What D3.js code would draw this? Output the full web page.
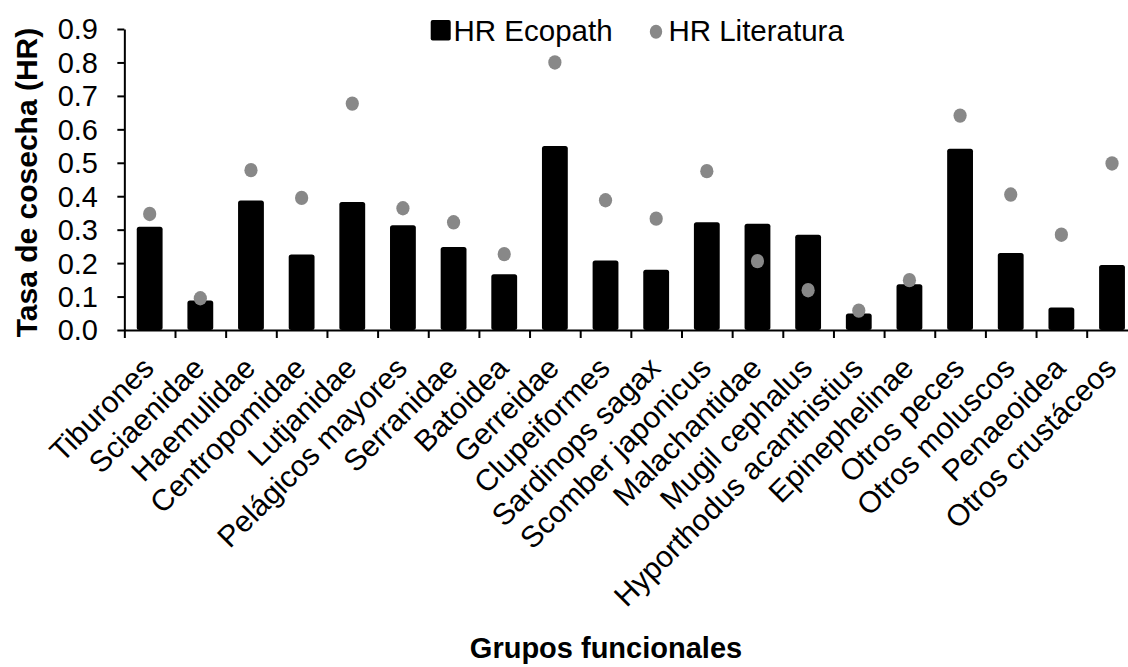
<!DOCTYPE html>
<html lang="es">
  <head>
    <meta charset="utf-8">
    <title>Tasa de cosecha (HR)</title>
    <script src="https://d3js.org/d3.v7.min.js"></script>
    <style>
      body { margin: 0; background: #fff; }
      svg { display: block; }
      text { font-family: "Liberation Sans", Arial, sans-serif; fill: #000; }
    </style>
  </head>
  <body>
    <div id="chart"></div>
    <script type="text/javascript">
      // data
      const categories = ["Tiburones", "Sciaenidae", "Haemulidae", "Centropomidae", "Lutjanidae",
        "Pelágicos mayores", "Serranidae", "Batoidea", "Gerreidae", "Clupeiformes",
        "Sardinops sagax", "Scomber japonicus", "Malachantidae", "Mugil cephalus",
        "Hyporthodus acanthistius", "Epinephelinae", "Otros peces", "Otros moluscos",
        "Penaeoidea", "Otros crustáceos"];
      const hrEcopath = [0.309, 0.088, 0.387, 0.226, 0.383, 0.313, 0.248, 0.167, 0.550, 0.208,
        0.180, 0.322, 0.318, 0.285, 0.049, 0.137, 0.542, 0.230, 0.067, 0.194];
      const hrLiteratura = [0.347, 0.095, 0.478, 0.395, 0.677, 0.364, 0.322, 0.227, 0.800, 0.388,
        0.333, 0.475, 0.206, 0.119, 0.058, 0.149, 0.641, 0.405, 0.285, 0.498];
      const yTicks = [0, 0.1, 0.2, 0.3, 0.4, 0.5, 0.6, 0.7, 0.8, 0.9];
      const seriesNames = ["HR Ecopath", "HR Literatura"];

      const width = 1128, height = 667;

      var svg = d3.select("#chart")
        .append("svg")
        .attr("width", width)
        .attr("height", height);

      // scales
      let x = d3.scaleBand()
        .domain(categories)
        .range([124.35, 1137.35])
        .padding(0);
      let xEdge = d3.scaleLinear()
        .domain([0, categories.length])
        .range(x.range());
      let y = d3.scaleLinear()
        .domain([0, 0.9])
        .range([330, 29]);

      let barW = x.bandwidth() * 0.51;

      // bars
      svg.selectAll(".bar")
        .data(hrEcopath)
        .enter()
        .append("rect")
          .attr("class", "bar")
          .attr("x", (d, i) => x(categories[i]) + x.bandwidth() / 2 - barW / 2)
          .attr("y", (d) => y(d))
          .attr("width", barW)
          .attr("height", (d) => y(0) - y(d))
          .attr("rx", 2.5)
          .attr("fill", "#000");

      // axes
      let yAxis = d3.axisLeft(y)
        .tickValues(yTicks)
        .tickSize(7)
        .tickSizeOuter(0)
        .tickFormat("");
      let gy = svg.append("g")
        .attr("transform", "translate(" + x.range()[0] + ",0)")
        .call(yAxis);

      let xAxis = d3.axisBottom(xEdge)
        .tickValues(d3.range(categories.length + 1))
        .tickSize(8)
        .tickSizeOuter(0)
        .tickFormat("");
      let gx = svg.append("g")
        .attr("transform", "translate(0," + y(0) + ")")
        .call(xAxis);

      [gx, gy].forEach(function(g) {
        g.select(".domain").attr("stroke", "#000").attr("stroke-width", 2);
        g.selectAll(".tick line").attr("stroke", "#000").attr("stroke-width", 2);
      });

      // dots
      svg.selectAll(".dot")
        .data(hrLiteratura)
        .enter()
        .append("ellipse")
          .attr("class", "dot")
          .attr("cx", (d, i) => x(categories[i]) + x.bandwidth() / 2)
          .attr("cy", (d) => y(d))
          .attr("rx", 6.6)
          .attr("ry", 7.2)
          .attr("fill", "#888888");

      // y tick labels
      svg.selectAll(".ylab")
        .data(yTicks)
        .enter()
        .append("text")
          .attr("class", "ylab")
          .attr("x", 98)
          .attr("y", (d) => y(d))
          .attr("text-anchor", "end")
          .attr("dy", "0.36em")
          .style("font-size", "29px")
          .text(d3.format(".1f"));

      // category labels
      svg.selectAll(".xlab")
        .data(categories)
        .enter()
        .append("text")
          .attr("class", "xlab")
          .attr("transform", (d) => "translate(" + (x(d) + x.bandwidth() / 2 + 6) + ",370) rotate(-45)")
          .attr("text-anchor", "end")
          .style("font-size", "30px")
          .text((d) => d);

      // axis titles
      svg.append("text")
        .attr("transform", "translate(37,182.5) rotate(-90)")
        .attr("text-anchor", "middle")
        .style("font-size", "30px")
        .style("font-weight", "bold")
        .text("Tasa de cosecha (HR)");

      svg.append("text")
        .attr("x", 606)
        .attr("y", 658)
        .attr("text-anchor", "middle")
        .style("font-size", "29px")
        .style("font-weight", "bold")
        .text("Grupos funcionales");

      // legend
      let legend = svg.append("g");
      legend.append("rect")
        .attr("x", 430.7)
        .attr("y", 20)
        .attr("width", 20)
        .attr("height", 20.5)
        .attr("rx", 2)
        .attr("fill", "#000");
      legend.append("text")
        .attr("x", 453.5)
        .attr("y", 41)
        .style("font-size", "29.5px")
        .text(seriesNames[0]);
      legend.append("ellipse")
        .attr("cx", 656)
        .attr("cy", 31.7)
        .attr("rx", 6.2)
        .attr("ry", 7)
        .attr("fill", "#888888");
      legend.append("text")
        .attr("x", 668.4)
        .attr("y", 41)
        .style("font-size", "29.5px")
        .text(seriesNames[1]);
    </script>
  </body>
</html>
